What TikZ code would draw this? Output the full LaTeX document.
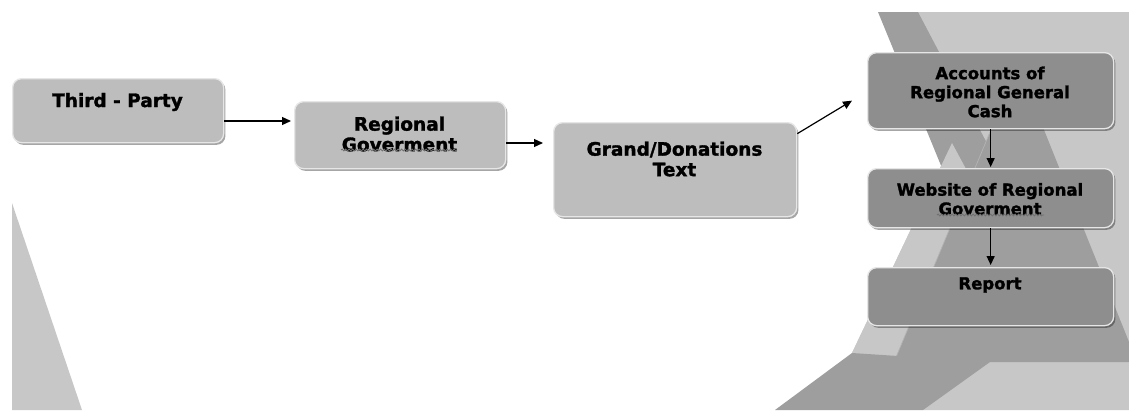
\documentclass[tikz,border=0pt]{standalone}
\usepackage{fontspec}
\setmainfont{DejaVu Sans}[BoldFeatures={FakeBold=1.6}]
\usetikzlibrary{arrows.meta,shadows,decorations.pathmorphing}
\definecolor{bglight}{HTML}{C7C7C7}
\definecolor{bgdark}{HTML}{9E9E9E}
\definecolor{boxlight}{HTML}{BDBDBD}
\definecolor{boxdark}{HTML}{8E8E8E}
\definecolor{rim}{HTML}{E6E6E6}
\definecolor{edgeline}{HTML}{B4B4B4}
\definecolor{squigcol}{HTML}{707070}
\begin{document}
\begin{tikzpicture}[x=1pt,y=-1pt,
  box/.style={rectangle, rounded corners=9pt, draw=rim, line width=1.3pt,
    drop shadow={shadow xshift=1.8pt,shadow yshift=-2.2pt,fill=black,opacity=0.35},
    anchor=north west, inner sep=0pt},
  lbox/.style={box, fill=boxlight},
  rbox/.style={box, fill=boxdark},
  ltext/.style={font=\fontsize{18.5}{20.5}\selectfont\bfseries, align=center, inner sep=0pt},
  rtext/.style={font=\fontsize{16.5}{19}\selectfont\bfseries, align=center, inner sep=0pt},
  arr/.style={line width=1.2pt, -{Triangle[length=9pt,width=8pt]}},
  squig/.style={draw=squigcol, line width=0.8pt, decorate,
    decoration={snake, amplitude=1pt, segment length=3.5pt}}
]
\useasboundingbox (0,0) rectangle (1129,410);
\fill[white] (0,0) rectangle (1129,410);

% background shapes
\fill[bglight] (12,203) -- (12,410) -- (82,410) -- cycle;
\fill[bglight] (900,12) -- (1129,12) -- (1129,410) -- (923,410) -- (852,353) -- (952,143) -- cycle;
\fill[bgdark] (878,12) -- (918,12) -- (1000,168) -- (942,168) -- cycle;
\fill[bglight] (952,143) -- (852,353) -- (1065,353) -- cycle;
\fill[bgdark] (1018,65) -- (894,362) -- (1129,362) -- (1129,342) -- cycle;
\draw[edgeline, line width=0.7pt] (1018,65) -- (894,362);
\fill[bgdark] (852,353) -- (990,362) -- (923,410) -- (775,410) -- cycle;

% boxes
\node[lbox, minimum width=211pt, minimum height=64pt] (tp) at (12,78) {};
\node[lbox, minimum width=211pt, minimum height=67pt] (rg) at (294,101) {};
\node[lbox, minimum width=243pt, minimum height=94pt] (gd) at (553,122) {};
\node[rbox, minimum width=246pt, minimum height=76pt] (ac) at (867,52) {};
\node[rbox, minimum width=246pt, minimum height=59pt] (wb) at (867,168) {};
\node[rbox, minimum width=246pt, minimum height=58pt] (rp) at (867,267) {};

% texts
\node[ltext] (tpt) at (117.5,102) {Third - Party};
\node[ltext] (rgt) at (399.5,134) {Regional\\Goverment};
\node[ltext] (gdt) at (674.5,159) {Grand/Donations\\Text};
\node[rtext] (act) at (990,92) {Accounts of\\Regional General\\Cash};
\node[rtext] (wbt) at (990,199) {Website of Regional\\Goverment};
\node[rtext] (rpt) at (990,285) {Report};

% spell-check squiggles
\draw[squig] (341,150) -- (457,150);
\draw[squig] (937,215) -- (1044,215);

% connectors
\draw[arr, shorten >=3pt] (tp.east |- 0,121) -- (rg.west |- 0,121);
\draw[arr, shorten >=10pt] (rg.east |- 0,143) -- (gd.west |- 0,143);
\draw[arr] ([yshift=36pt]gd.east) -- ([xshift=-15pt,yshift=-10pt]ac.west);
\draw[arr, shorten >=1pt] (ac.south) -- (wb.north);
\draw[arr, shorten >=2pt] (wb.south) -- (rp.north);
\end{tikzpicture}
\end{document}
